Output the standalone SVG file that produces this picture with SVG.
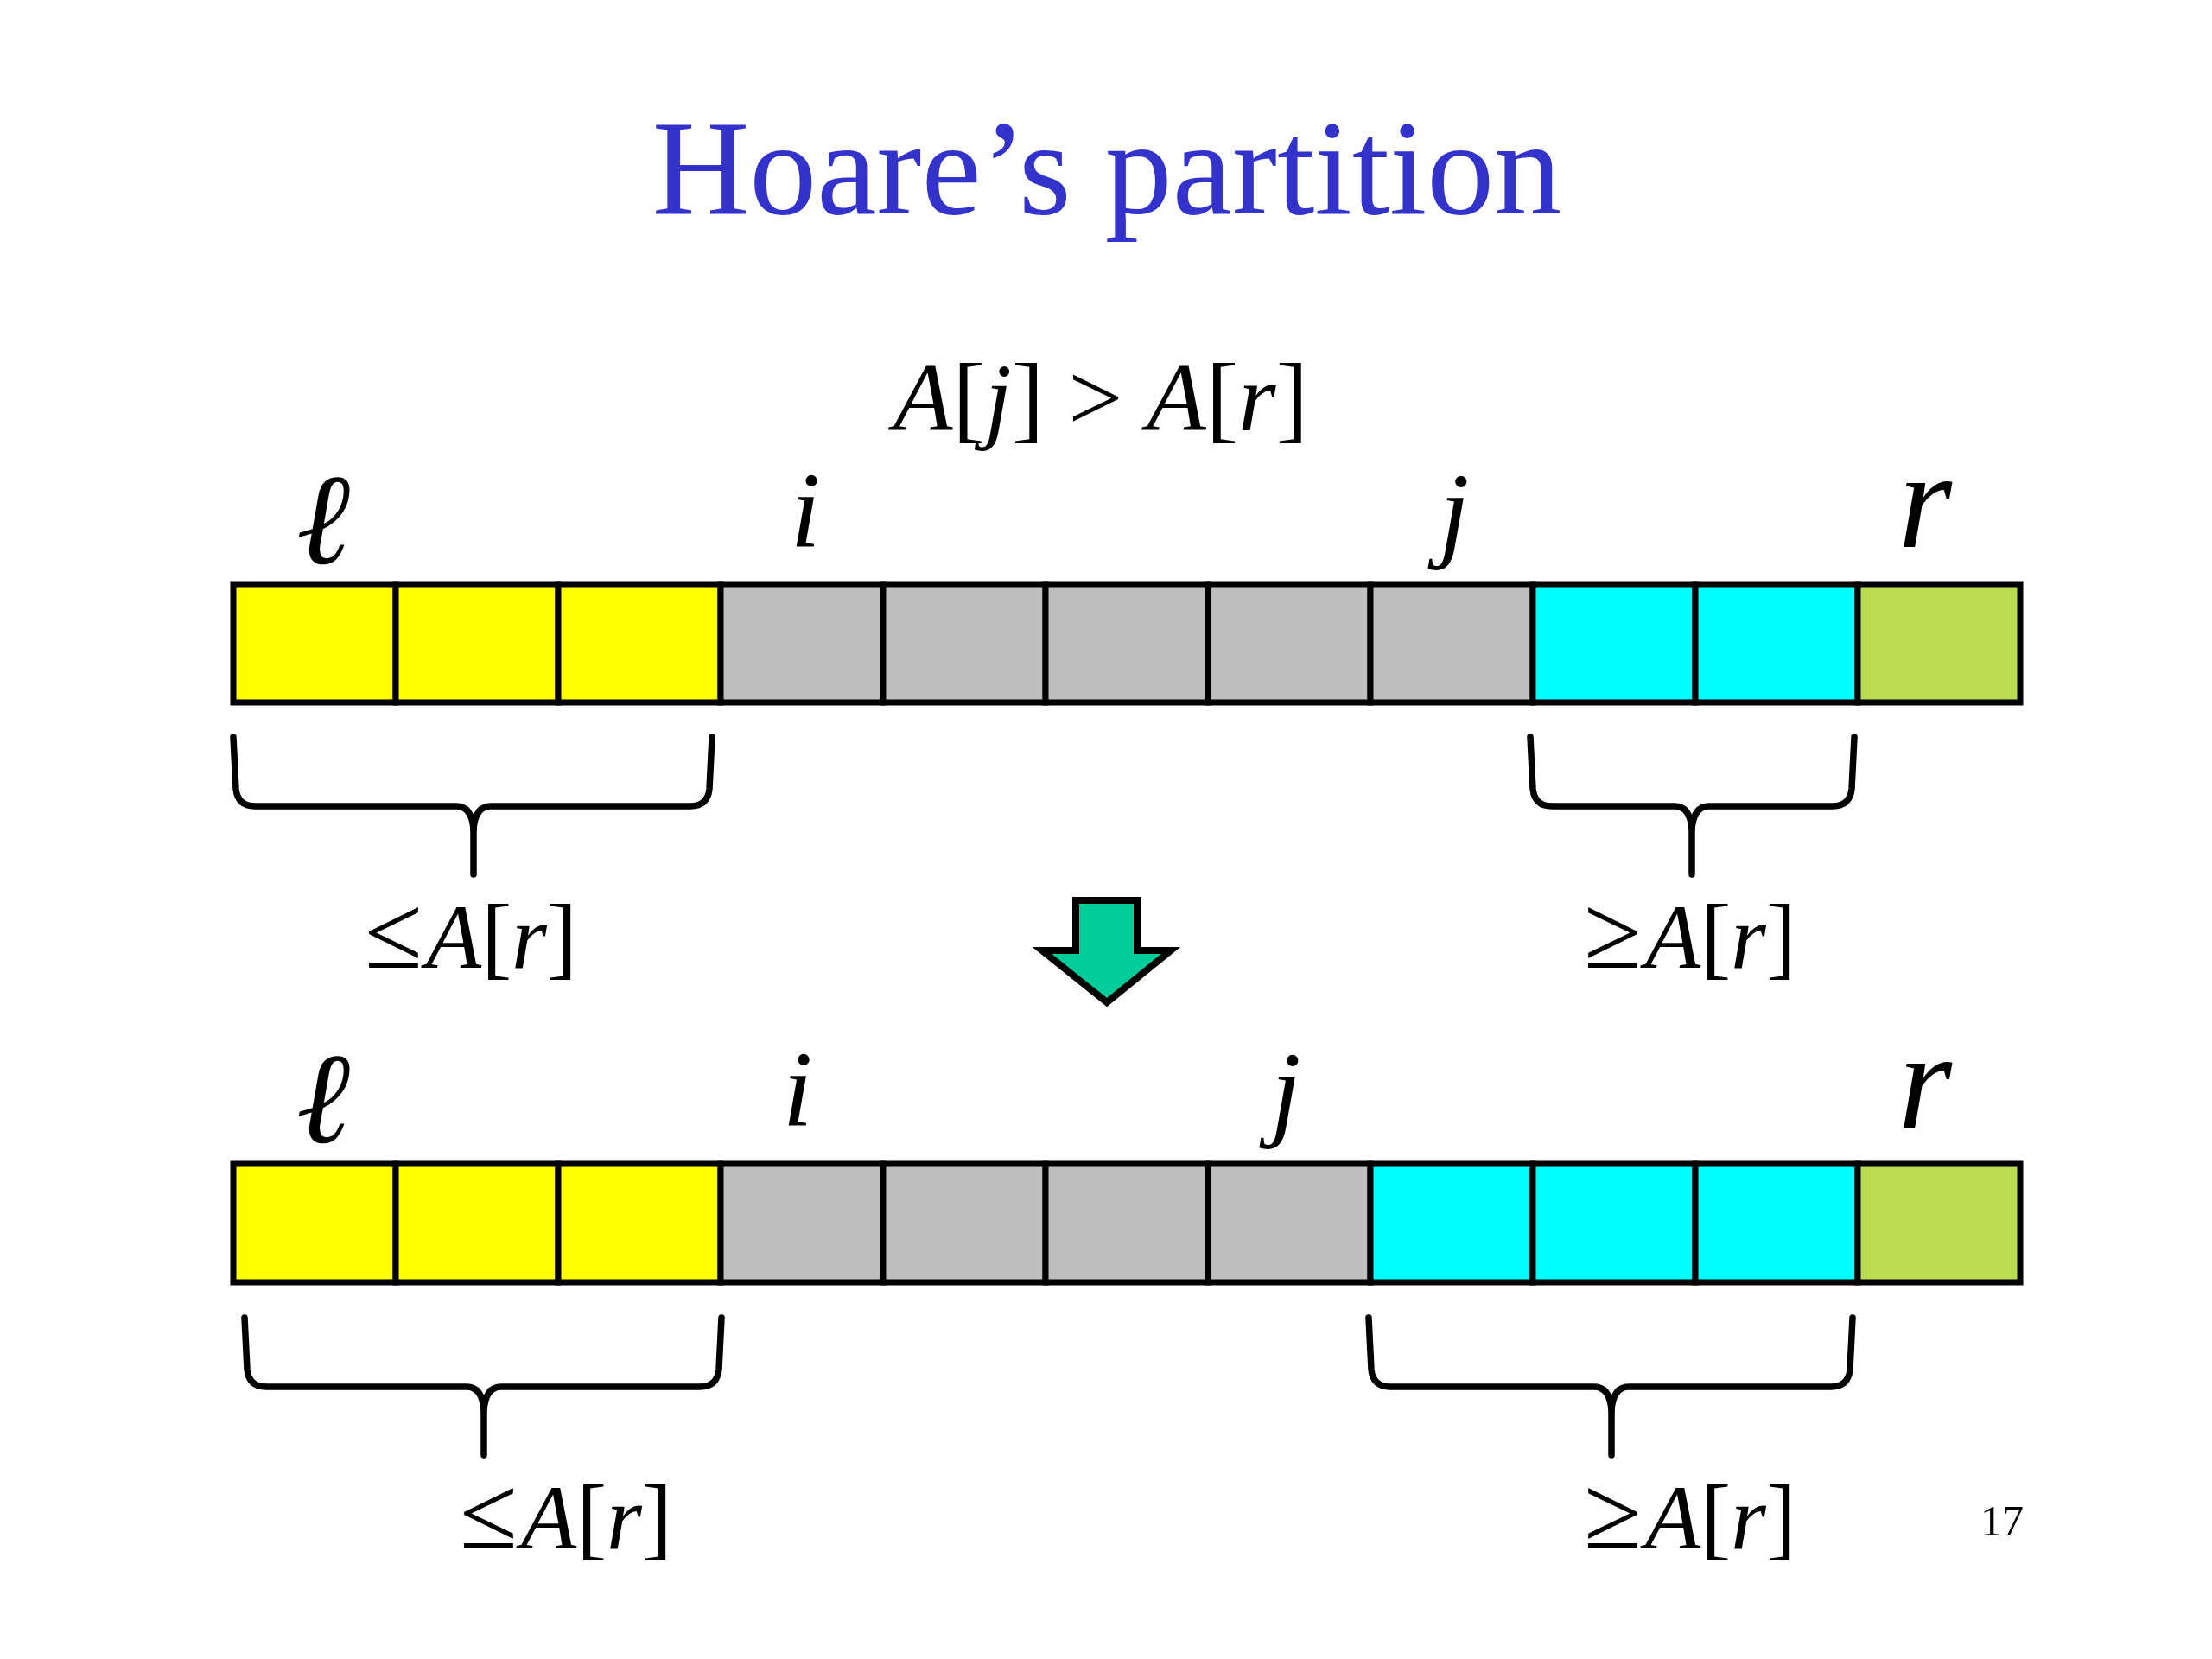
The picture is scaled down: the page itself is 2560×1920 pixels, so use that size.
<svg xmlns="http://www.w3.org/2000/svg" width="2560" height="1920" viewBox="0 0 2560 1920">
<style>
.cell{stroke:#000;stroke-width:7}
.y{fill:#FFFF00}.g{fill:#BEBEBE}.c{fill:#00FFFF}.p{fill:#B9DC50}
.var{font-family:"Liberation Serif","DejaVu Serif",serif;font-style:italic;fill:#000}
.math{font-family:"Liberation Serif","DejaVu Serif",serif;fill:#000}
.it{font-style:italic}
.rel{font-size:122px}
.brace{fill:none;stroke:#000;stroke-width:7.5;stroke-linecap:round;stroke-linejoin:round}
</style>
<rect width="2560" height="1920" fill="#fff"/>
<g id="title"><text x="1281" y="247" text-anchor="middle" font-family="Liberation Serif, serif" font-size="156" fill="#3333CC">Hoare’s partition</text></g>
<g id="condition"><text x="1274" y="498" text-anchor="middle" class="math" font-size="112"><tspan class="it">A</tspan>[<tspan class="it">j</tspan>] &gt; <tspan class="it">A</tspan>[<tspan class="it">r</tspan>]</text></g>

<g id="array-top">
<rect class="cell y" x="270" y="676" width="188" height="137"/>
<rect class="cell y" x="458" y="676" width="188" height="137"/>
<rect class="cell y" x="646" y="676" width="188" height="137"/>
<rect class="cell g" x="834" y="676" width="188" height="137"/>
<rect class="cell g" x="1022" y="676" width="188" height="137"/>
<rect class="cell g" x="1210" y="676" width="188" height="137"/>
<rect class="cell g" x="1398" y="676" width="188" height="137"/>
<rect class="cell g" x="1586" y="676" width="188" height="137"/>
<rect class="cell c" x="1774" y="676" width="188" height="137"/>
<rect class="cell c" x="1962" y="676" width="188" height="137"/>
<rect class="cell p" x="2150" y="676" width="188" height="137"/>
</g>
<g id="labels-top">
<text class="var" x="374" y="652" text-anchor="middle" font-size="150">ℓ</text>
<text class="var" x="932" y="633" text-anchor="middle" font-size="125">i</text>
<text class="var" x="1683" y="633" text-anchor="middle" font-size="125">j</text>
<text class="var" x="2228" y="633" text-anchor="middle" font-size="160">r</text>
</g>

<g id="array-bottom">
<rect class="cell y" x="270" y="1347" width="188" height="137"/>
<rect class="cell y" x="458" y="1347" width="188" height="137"/>
<rect class="cell y" x="646" y="1347" width="188" height="137"/>
<rect class="cell g" x="834" y="1347" width="188" height="137"/>
<rect class="cell g" x="1022" y="1347" width="188" height="137"/>
<rect class="cell g" x="1210" y="1347" width="188" height="137"/>
<rect class="cell g" x="1398" y="1347" width="188" height="137"/>
<rect class="cell c" x="1586" y="1347" width="188" height="137"/>
<rect class="cell c" x="1774" y="1347" width="188" height="137"/>
<rect class="cell c" x="1962" y="1347" width="188" height="137"/>
<rect class="cell p" x="2150" y="1347" width="188" height="137"/>
</g>
<g id="labels-bottom">
<text class="var" x="374" y="1322" text-anchor="middle" font-size="150">ℓ</text>
<text class="var" x="923" y="1303" text-anchor="middle" font-size="125">i</text>
<text class="var" x="1488" y="1303" text-anchor="middle" font-size="125">j</text>
<text class="var" x="2228" y="1305" text-anchor="middle" font-size="160">r</text>
</g>

<g id="connectors">
<g id="brace-top-left">
<path class="brace" d="M270,853 L273,913 Q275,933 295,933 L528,933 Q546,933 548,960 L548,1012"/>
<path class="brace" d="M824,853 L821,913 Q819,933 799,933 L568,933 Q550,933 548,960"/>
</g>
<g id="brace-top-right">
<path class="brace" d="M1771,853 L1774,913 Q1776,933 1796,933 L1938,933 Q1956,933 1958,960 L1958,1012"/>
<path class="brace" d="M2146,853 L2143,913 Q2141,933 2121,933 L1978,933 Q1960,933 1958,960"/>
</g>
<g id="brace-bottom-left">
<path class="brace" d="M283,1525 L286,1585 Q288,1605 308,1605 L540,1605 Q558,1605 560,1632 L560,1684"/>
<path class="brace" d="M835,1525 L832,1585 Q830,1605 810,1605 L580,1605 Q562,1605 560,1632"/>
</g>
<g id="brace-bottom-right">
<path class="brace" d="M1584,1525 L1587,1585 Q1589,1605 1609,1605 L1845,1605 Q1863,1605 1865,1632 L1865,1684"/>
<path class="brace" d="M2144,1525 L2141,1585 Q2139,1605 2119,1605 L1885,1605 Q1867,1605 1865,1632"/>
</g>
<g id="down-arrow">
<polygon points="1245,1042 1316,1042 1316,1100 1355,1100 1281,1160 1206,1100 1245,1100" fill="#00CC99" stroke="#000" stroke-width="8" stroke-linejoin="miter"/>
</g>
</g>

<g id="range-labels">
<text class="math" x="545" y="1120" text-anchor="middle" font-size="105"><tspan class="rel">≤</tspan><tspan class="it" dx="4">A</tspan>[<tspan class="it">r</tspan>]</text>
<text class="math" x="1956" y="1120" text-anchor="middle" font-size="105"><tspan class="rel">≥</tspan><tspan class="it" dx="4">A</tspan>[<tspan class="it">r</tspan>]</text>
<text class="math" x="655" y="1792" text-anchor="middle" font-size="105"><tspan class="rel">≤</tspan><tspan class="it" dx="4">A</tspan>[<tspan class="it">r</tspan>]</text>
<text class="math" x="1956" y="1792" text-anchor="middle" font-size="105"><tspan class="rel">≥</tspan><tspan class="it" dx="4">A</tspan>[<tspan class="it">r</tspan>]</text>
</g>
<g id="page-number"><text x="2342" y="1777" text-anchor="end" font-family="Liberation Serif, serif" font-size="50" fill="#000">17</text></g>
</svg>
